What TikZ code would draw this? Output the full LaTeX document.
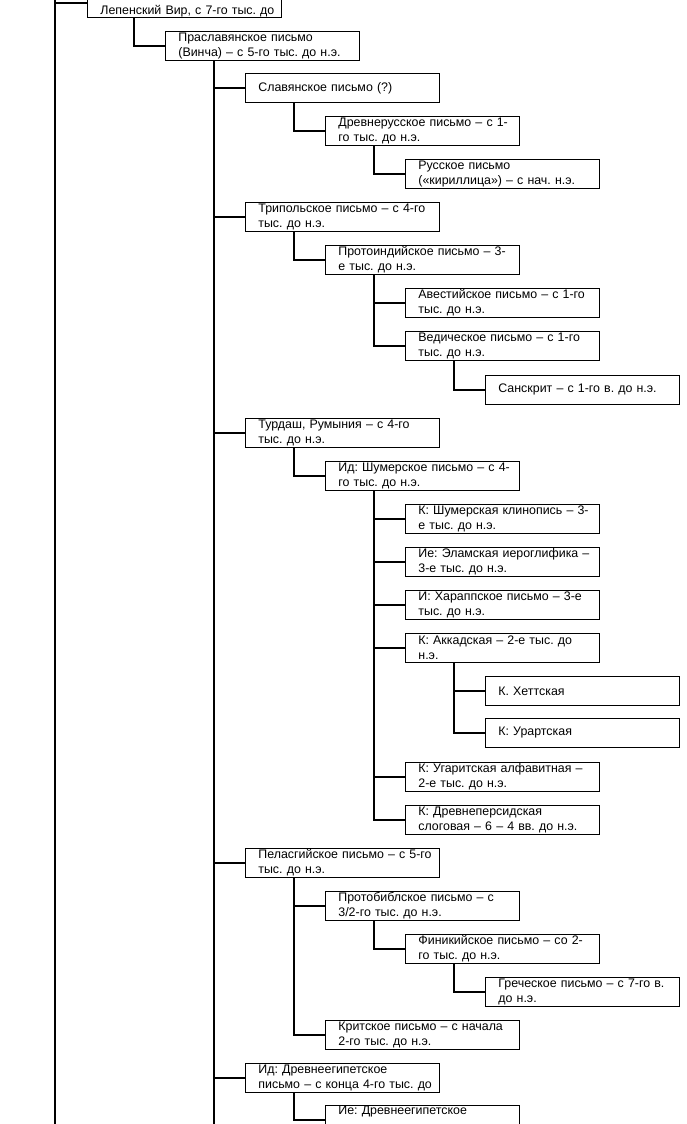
\documentclass[tikz,border=0pt]{standalone}
\usepackage{fontspec}
\setmainfont{Liberation Sans}
\usepackage{tikz}
\usepackage{xcolor}

\tikzset{
  blk/.style={draw, line width=0.8pt, anchor=north west, minimum width=194pt,
    minimum height=29pt, text width=168pt, inner xsep=13pt, inner ysep=1pt,
    align=left, font=\fontsize{12.4}{14.6}\selectfont\frenchspacing},
  lnk/.style={line width=2.5pt},
}
\newcommand{\bl}[1]{\mbox{#1}}

\begin{document}
\begin{tikzpicture}[x=1pt,y=1pt]
  \clip (0,0) rectangle (686,-1124);

  % Fixed coordinates
  \node[blk] (lep)   at (87,12)    {\strut\\\bl{Лепенский Вир, с 7-го тыс. до}};
  \node[blk] (prasl) at (165,-31)  {\bl{Праславянское письмо}\\\bl{(Винча) – с 5-го тыс. до н.э.}};
  \node[blk] (slav)  at (245,-73)  {\bl{Славянское письмо (?)}};
  \node[blk] (drus)  at (325,-116) {\bl{Древнерусское письмо – с 1-}\\\bl{го тыс. до н.э.}};
  \node[blk] (rus)   at (405,-159) {\bl{Русское письмо}\\\bl{(«кириллица») – с нач. н.э.}};
  \node[blk] (trip)  at (245,-202) {\bl{Трипольское письмо – с 4-го}\\\bl{тыс. до н.э.}};
  \node[blk] (pind)  at (325,-245) {\bl{Протоиндийское письмо – 3-}\\\bl{е тыс. до н.э.}};
  \node[blk] (avest) at (405,-288) {\bl{Авестийское письмо – с 1-го}\\\bl{тыс. до н.э.}};
  \node[blk] (ved)   at (405,-331) {\bl{Ведическое письмо – с 1-го}\\\bl{тыс. до н.э.}};
  \node[blk] (sansk) at (485,-375) {\bl{Санскрит – с 1-го в. до н.э.}};
  \node[blk] (turd)  at (245,-418) {\bl{Турдаш, Румыния – с 4-го}\\\bl{тыс. до н.э.}};
  \node[blk] (shum)  at (325,-461) {\bl{Ид: Шумерское письмо – с 4-}\\\bl{го тыс. до н.э.}};
  \node[blk] (klin)  at (405,-504) {\bl{К: Шумерская клинопись – 3-}\\\bl{е тыс. до н.э.}};
  \node[blk] (elam)  at (405,-547) {\bl{Ие: Эламская иероглифика –}\\\bl{3-е тыс. до н.э.}};
  \node[blk] (harap) at (405,-590) {\bl{И: Хараппское письмо – 3-е}\\\bl{тыс. до н.э.}};
  \node[blk] (akkad) at (405,-633) {\bl{К: Аккадская – 2-е тыс. до}\\\bl{н.э.}};
  \node[blk] (hett)  at (485,-676) {\bl{К. Хеттская}};
  \node[blk] (urart) at (485,-718) {\bl{К: Урартская}};
  \node[blk] (ugar)  at (405,-762) {\bl{К: Угаритская алфавитная –}\\\bl{2-е тыс. до н.э.}};
  \node[blk] (pers)  at (405,-805) {\bl{К: Древнеперсидская}\\\bl{слоговая – 6 – 4 вв. до н.э.}};
  \node[blk] (pelas) at (245,-848) {\bl{Пеласгийское письмо – с 5-го}\\\bl{тыс. до н.э.}};
  \node[blk] (pbibl) at (325,-891) {\bl{Протобиблское письмо – с}\\\bl{3/2-го тыс. до н.э.}};
  \node[blk] (finik) at (405,-934) {\bl{Финикийское письмо – со 2-}\\\bl{го тыс. до н.э.}};
  \node[blk] (grek)  at (485,-977) {\bl{Греческое письмо – с 7-го в.}\\\bl{до н.э.}};
  \node[blk] (krit)  at (325,-1020) {\bl{Критское письмо – с начала}\\\bl{2-го тыс. до н.э.}};
  \node[blk] (egip)  at (245,-1063) {\bl{Ид: Древнеегипетское}\\\bl{письмо – с конца 4-го тыс. до}};
  \node[blk] (egip2) at (325,-1105) {\bl{Ие: Древнеегипетское}\\\strut};

  % trunks running off the page
  \coordinate (r0) at (55,20);
  \coordinate (r1) at (55,-1140);
  \coordinate (t1) at (214,-1140);
  \draw[lnk] (r0) -- (r1);
  \draw[lnk] (r0 |- lep.west) -- (lep.west);
  \draw[lnk] ([xshift=47pt]lep.south west) |- (prasl.west);
  \draw[lnk] ([xshift=49pt]prasl.south west) -- (t1);

  % elbows
  \foreach \a/\b in {prasl/slav, prasl/trip, prasl/turd, prasl/pelas, prasl/egip,
      slav/drus, drus/rus, trip/pind, pind/avest, pind/ved, ved/sansk,
      turd/shum, shum/klin, shum/elam, shum/harap, shum/akkad, shum/ugar, shum/pers,
      akkad/hett, akkad/urart, pelas/pbibl, pelas/krit, pbibl/finik, finik/grek,
      egip/egip2}
    \draw[lnk] ([xshift=49pt]\a.south west) |- (\b.west);
\end{tikzpicture}
\end{document}
